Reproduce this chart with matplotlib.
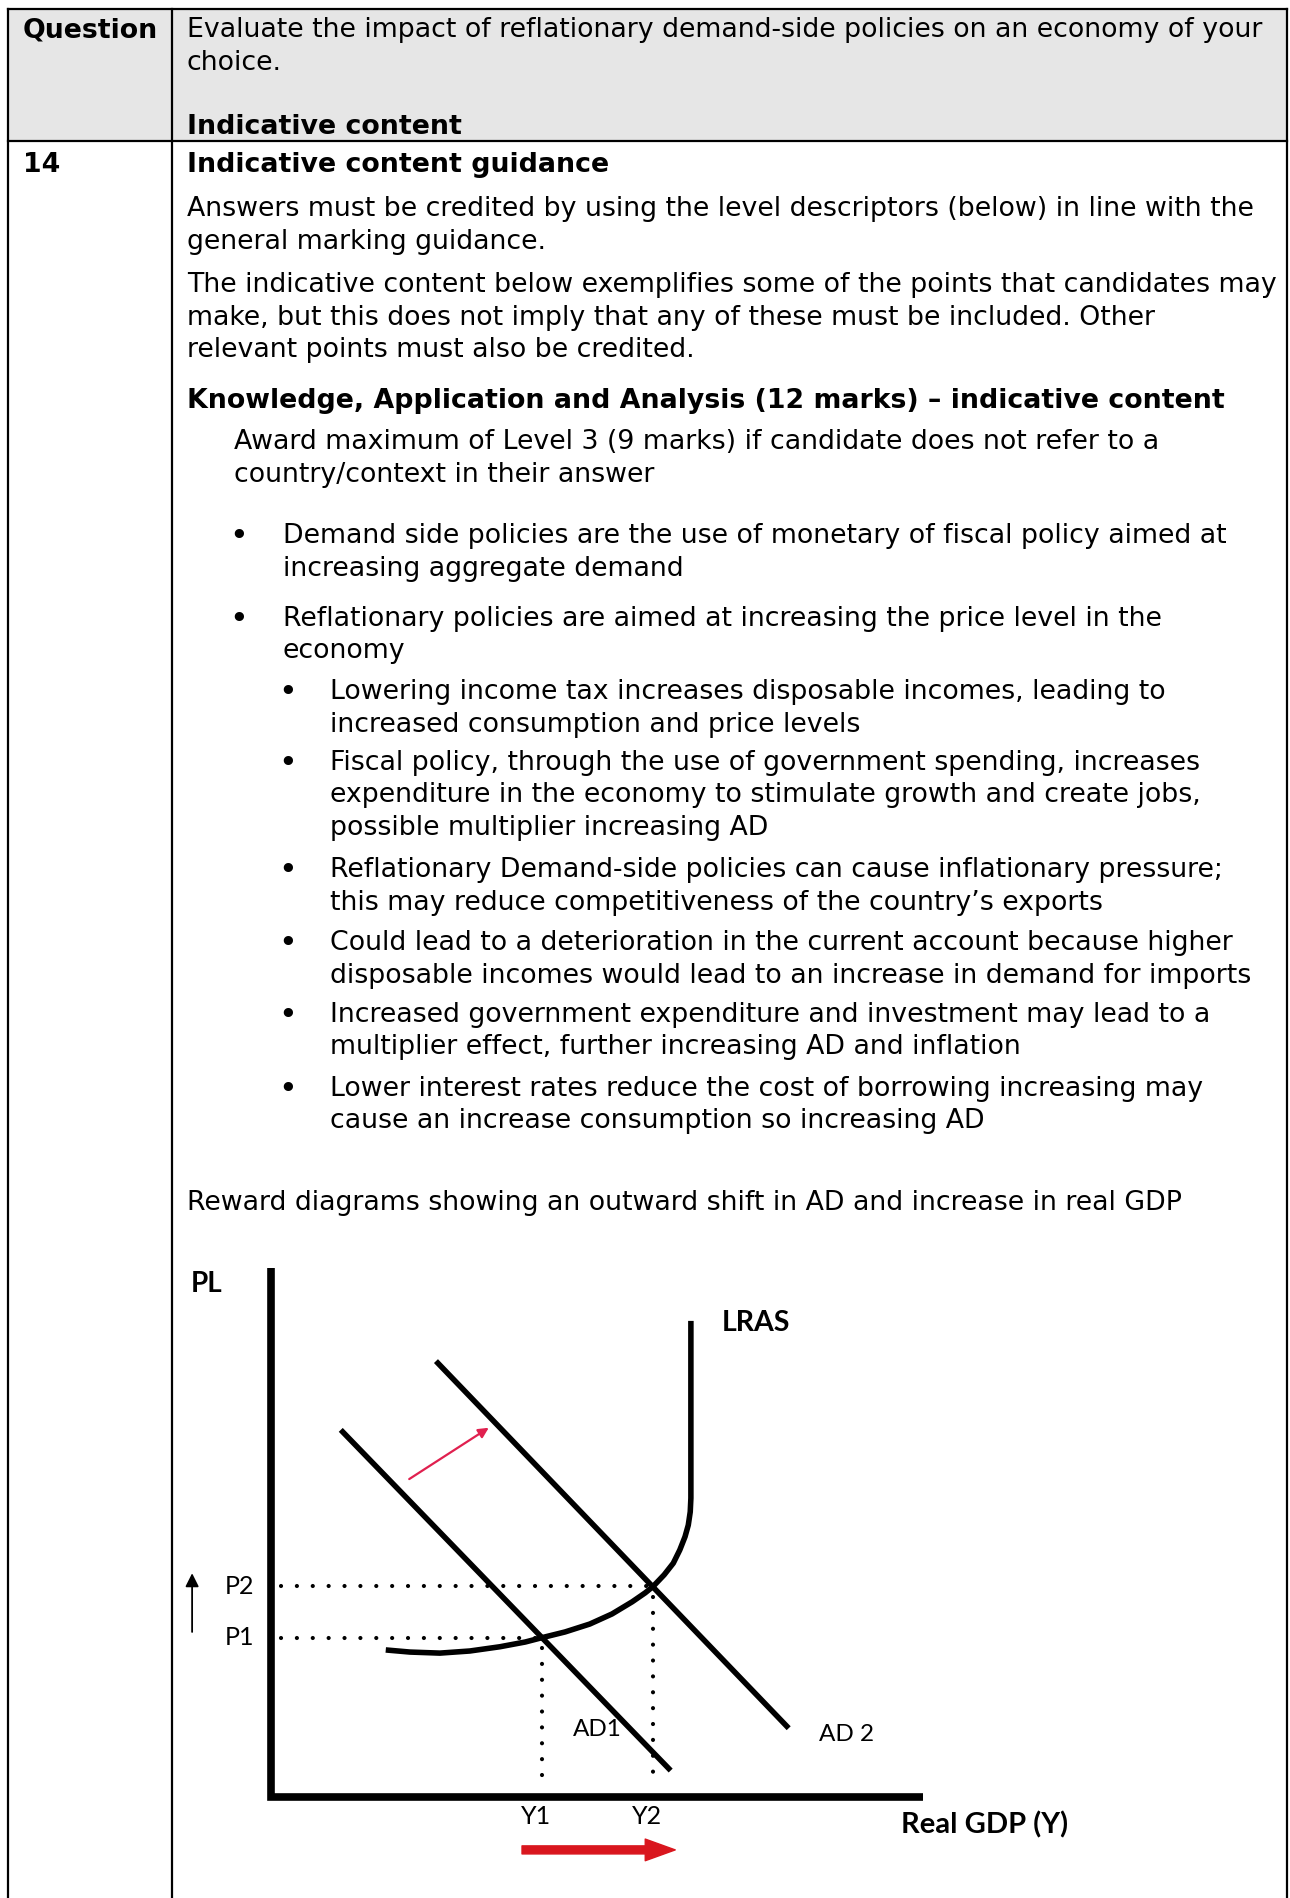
import numpy as np
import matplotlib.pyplot as plt
from matplotlib.patches import Rectangle

# mark scheme text
question_label = "Question"
question_lines = ["Evaluate the impact of reflationary demand-side policies on an economy of your",
                  "choice."]
header_sub = "Indicative content"
question_number = "14"
guidance_title = "Indicative content guidance"
intro_para1 = ["Answers must be credited by using the level descriptors (below) in line with the",
               "general marking guidance."]
intro_para2 = ["The indicative content below exemplifies some of the points that candidates may",
               "make, but this does not imply that any of these must be included. Other",
               "relevant points must also be credited."]
kaa_title = "Knowledge, Application and Analysis (12 marks) \u2013 indicative content"
award_lines = ["Award maximum of Level 3 (9 marks) if candidate does not refer to a",
               "country/context in their answer"]
main_bullets = [["Demand side policies are the use of monetary of fiscal policy aimed at",
                 "increasing aggregate demand"],
                ["Reflationary policies are aimed at increasing the price level in the",
                 "economy"]]
sub_bullets = [["Lowering income tax increases disposable incomes, leading to",
                "increased consumption and price levels"],
               ["Fiscal policy, through the use of government spending, increases",
                "expenditure in the economy to stimulate growth and create jobs,",
                "possible multiplier increasing AD"],
               ["Reflationary Demand-side policies can cause inflationary pressure;",
                "this may reduce competitiveness of the country\u2019s exports"],
               ["Could lead to a deterioration in the current account because higher",
                "disposable incomes would lead to an increase in demand for imports"],
               ["Increased government expenditure and investment may lead to a",
                "multiplier effect, further increasing AD and inflation"],
               ["Lower interest rates reduce the cost of borrowing increasing may",
                "cause an increase consumption so increasing AD"]]
reward_line = "Reward diagrams showing an outward shift in AD and increase in real GDP"

# AD / LRAS diagram, both axes in index units 0-100
ad1_x = [10.7, 61.3]
ad1_y = [69.4, 5.0]
ad2_x = [25.3, 79.4]
ad2_y = [82.4, 13.0]
lras_x = [17.6, 21.3, 25.9, 30.5, 35.1, 39.0, 41.5, 45.1, 48.9, 52.3, 55.4,
          57.4, 58.6, 60.3, 61.7, 62.7, 63.5, 64.0, 64.3, 64.4, 64.4]
lras_y = [27.8, 27.4, 27.2, 27.6, 28.4, 29.3, 30.1, 31.2, 32.7, 34.6, 36.9,
          38.6, 39.8, 42.0, 44.2, 46.7, 49.2, 51.4, 53.9, 56.5, 90.0]
eq_gdp = [41.5, 58.6]      # Y1, Y2
eq_pl = [30.1, 39.8]       # P1, P2
gdp_labels = ["Y1", "Y2"]
pl_labels = ["P1", "P2"]

FS = 19.3
TXT = 'DejaVu Sans'
LEAD = 32.5

fig = plt.figure(figsize=(12.9, 18.98), dpi=100)
ax = fig.add_axes([0, 0, 1, 1])
ax.set_xlim(0, 1290)
ax.set_ylim(1898, 0)
ax.axis('off')

# table frame
L, R, T, HB, DIV = 7.5, 1287, 9, 141, 172
ax.add_patch(Rectangle((L, T), R - L, HB - T, facecolor='#e6e6e6', edgecolor='none'))
for x in [L, DIV, R]:
    ax.plot([x, x], [T, 1898], color='black', lw=1.6)
for y in [T, HB]:
    ax.plot([L, R], [y, y], color='black', lw=1.6)


def put_lines(x, y0, rows, bold=False):
    for i, t in enumerate(rows):
        ax.text(x, y0 + i * LEAD, t, fontsize=FS, family=TXT,
                fontweight='bold' if bold else 'normal', va='baseline', ha='left')


def bullet(x, y):
    ax.text(x, y + 2, '\u2022', fontsize=23, family=TXT, va='baseline', ha='center')


X0 = 187
put_lines(22.5, 37, [question_label], bold=True)
put_lines(X0, 37, question_lines)
put_lines(X0, 134, [header_sub], bold=True)
put_lines(22.5, 172, [question_number], bold=True)
put_lines(X0, 172, [guidance_title], bold=True)
put_lines(X0, 216, intro_para1)
put_lines(X0, 292, intro_para2)
put_lines(X0, 408, [kaa_title], bold=True)
put_lines(234, 449, award_lines)

for y0, rows in zip([543, 626], main_bullets):
    bullet(239, y0)
    put_lines(283, y0, rows)

for y0, rows in zip([699, 770, 877, 950, 1022, 1096], sub_bullets):
    bullet(288, y0)
    put_lines(330, y0, rows)

put_lines(X0, 1210, [reward_line])

# diagram
dax = fig.add_axes([271 / 1290, 101 / 1898, 652 / 1290, 529 / 1898])
dax.set_xlim(0, 100)
dax.set_ylim(0, 100)
dax.axis('off')
DF = 'Lato'

dot = dict(color='black', lw=3.0, ls=(0, (0.01, 3.8)), dash_capstyle='round', clip_on=False)
for g, p in zip(eq_gdp, eq_pl):
    dax.plot([1.6, g], [p, p], **dot)
    dax.plot([g, g], [p - 2.0, 2.2], **dot)

dax.plot([0, 0, 100], [100, 0, 0], color='black', lw=5.5,
         solid_joinstyle='miter', solid_capstyle='butt', clip_on=False)
curve = dict(color='black', lw=4, solid_capstyle='butt', solid_joinstyle='round', clip_on=False)
dax.plot(ad1_x, ad1_y, **curve)
dax.plot(ad2_x, ad2_y, **curve)
dax.plot(lras_x, lras_y, **curve)

dax.text(-12.3, 95.5, 'PL', family=DF, fontsize=20, fontweight='bold', ha='left', va='baseline')
dax.text(69.2, 88.1, 'LRAS', family=DF, fontsize=20.5, fontweight='bold', ha='left', va='baseline')
dax.text(96.6, -5.3, 'Real GDP (Y)', family=DF, fontsize=21, fontweight='bold', ha='left', va='center')
for p, name in zip(eq_pl, pl_labels):
    dax.text(-2.6, p, name, family=DF, fontsize=18, ha='right', va='center')
for g, name in zip(eq_gdp, gdp_labels):
    dax.text(g - 0.9, -3.6, name, family=DF, fontsize=18, ha='center', va='center')
dax.text(50.0, 12.7, 'AD1', family=DF, fontsize=17.5, ha='center', va='center')
dax.text(88.2, 11.9, 'AD 2', family=DF, fontsize=17.5, ha='center', va='center')

dax.annotate('', xy=(-12.1, 42.3), xytext=(-12.1, 31.2), annotation_clip=False,
             arrowprops=dict(arrowstyle='-|>', color='black', lw=1.3, mutation_scale=20,
                             shrinkA=0, shrinkB=0))
dax.annotate('', xy=(33.4, 69.8), xytext=(21.2, 60.1), annotation_clip=False,
             arrowprops=dict(arrowstyle='-|>', color='#e0204f', lw=1.6, mutation_scale=15,
                             shrinkA=0, shrinkB=0))
dax.annotate('', xy=(62.0, -10.0), xytext=(38.5, -10.0), annotation_clip=False,
             arrowprops=dict(arrowstyle='simple,head_length=1.08,head_width=0.78,tail_width=0.29',
                             color='#d9161e', mutation_scale=20, shrinkA=0, shrinkB=0))

fig.savefig('out.png', dpi=100)
